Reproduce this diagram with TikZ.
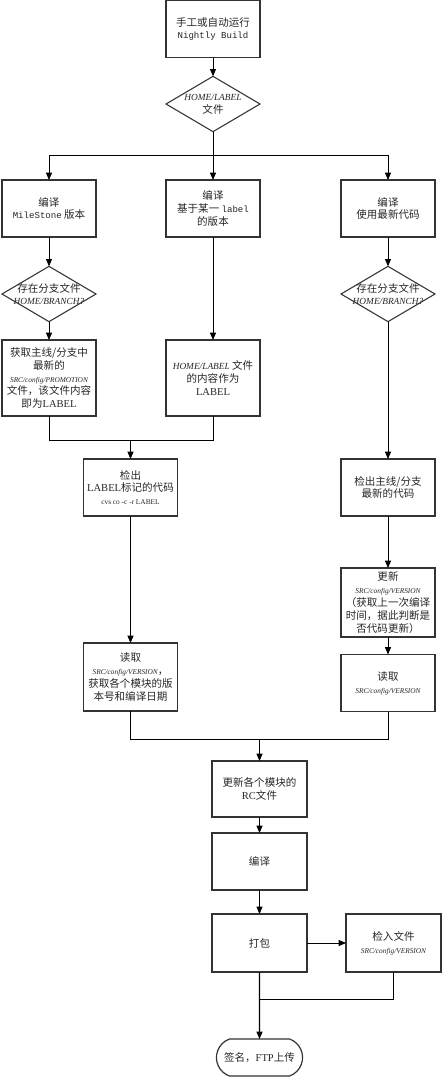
\documentclass[tikz,border=0pt]{standalone}
\usepackage{fontspec}
\setmainfont{Noto Sans CJK SC}
\newfontfamily\latf{Liberation Serif}
\newfontfamily\monof{Liberation Mono}
\newfontfamily\itf{Liberation Serif}[UprightFont=* Italic]
\usetikzlibrary{shapes.geometric,shapes.misc,arrows.meta}
\newcommand\ip[1]{{\itf\fontsize{7}{8}\selectfont #1}}
\newcommand\smp[1]{{\itf\fontsize{5.5}{7}\selectfont #1}}
\newcommand\mo[1]{{\monof\fontsize{6.8}{8}\selectfont #1}}
\newcommand\la[1]{{\latf #1}}
\begin{document}
\begin{tikzpicture}[x=0.75pt,y=-0.75pt,
  every node/.style={font=\fontsize{7.9}{9.6}\selectfont, text=black!85},
  box/.style={draw=black!80, line width=0.9pt, rectangle, minimum width=70.5pt, minimum height=42.75pt, align=center, inner sep=1pt, outer sep=0pt},
  dia/.style={draw=black!80, line width=0.8pt, diamond, minimum width=70.5pt, minimum height=41.5pt, inner sep=0pt, outer sep=0pt},
  term/.style={draw=black!80, line width=0.9pt, rounded rectangle, rounded rectangle arc length=140, minimum width=71.25pt, minimum height=27.75pt, align=center, outer sep=0pt},
  lin/.style={draw=black, line width=0.6pt},
  arr/.style={lin, -{Triangle[length=5.5pt,width=4.5pt]}}]
\useasboundingbox (0,0) rectangle (442,1078);
% nodes
\node[box] (top) at (213,29) {手工或自动运行\\\mo{Nightly Build}};
\node[dia] (d1) at (213,104) {};
\node[align=center] at (d1) {\ip{HOME/LABEL}\\文件};
\node[box] (L1) at (49,208.5) {编译\\\mo{MileStone} 版本};
\node[box] (M1) at (213,208.5) {编译\\基于某一 \mo{label}\\的版本};
\node[box] (R1) at (388,208.5) {编译\\使用最新代码};
\node[dia] (dL) at (49,294) {};
\node[align=center] at (dL) {存在分支文件\\\ip{HOME/BRANCH?}};
\node[dia] (dR) at (388,294) {};
\node[align=center] at (dR) {存在分支文件\\\ip{HOME/BRANCH?}};
\node[box, minimum height=57pt] (L2) at (49,378) {获取主线/分支中\\最新的\\\smp{SRC/config/PROMOTION}\\文件，该文件内容\\即为\la{LABEL}};
\node[box, minimum height=57pt] (M2) at (213,378) {\ip{HOME/LABEL} 文件\\的内容作为\\\la{LABEL}};
\node[box] (C1) at (130.5,487.5) {检出\\\la{LABEL}标记的代码\\{\latf\fontsize{5.5}{7}\selectfont cvs co -c -r LABEL}};
\node[box] (R2) at (388,487.5) {检出主线/分支\\最新的代码};
\node[box, minimum height=51.75pt] (R3) at (388,602.5) {更新\\\smp{SRC/config/VERSION}\\（获取上一次编译\\时间，据此判断是\\否代码更新）};
\node[box] (R4) at (388,683) {读取\\\smp{SRC/config/VERSION}};
\node[box, minimum height=51pt] (C2) at (130.5,677) {读取\\\smp{SRC/config/VERSION}，\\获取各个模块的版\\本号和编译日期};
\node[box, minimum width=71.25pt, minimum height=42pt] (B1) at (259.5,789) {更新各个模块的\\\la{RC}文件};
\node[box, minimum width=71.25pt] (B2) at (259.5,861.5) {编译};
\node[box, minimum width=71.25pt, minimum height=43.5pt] (B3) at (259.5,943) {打包};
\node[box, minimum width=71.25pt, minimum height=43.5pt] (B4) at (393.5,943) {检入文件\\\smp{SRC/config/VERSION}};
\node[term] (T) at (259.5,1057.5) {签名，\la{FTP}上传};
% junctions
\coordinate (j1) at (213,155);
\coordinate (j2) at (130.5,440);
\coordinate (j3) at (259.5,739);
\coordinate (j4) at (259.5,999);
% connectors
\draw[arr] (top) -- (d1);
\draw[lin] (d1.south) -- (j1);
\draw[arr] (j1) -| (L1.north);
\draw[arr] (j1) -| (R1.north);
\draw[arr] (j1) -- (M1.north);
\draw[arr] (L1) -- (dL);
\draw[arr] (dL) -- (L2);
\draw[arr] (M1) -- (M2);
\draw[arr] (R1) -- (dR);
\draw[arr] (dR) -- (R2);
\draw[lin] (L2.south) |- (j2);
\draw[lin] (M2.south) |- (j2);
\draw[arr] (j2) -- (C1.north);
\draw[arr] (C1) -- (C2);
\draw[arr] (R2) -- (R3);
\draw[arr] (R3) -- (R4);
\draw[lin] (C2.south) |- (j3);
\draw[lin] (R4.south) |- (j3);
\draw[arr] (j3) -- (B1.north);
\draw[arr] (B1) -- (B2);
\draw[arr] (B2) -- (B3);
\draw[arr] (B3) -- (B4);
\draw[lin] (B4.south) |- (j4);
\draw[arr, line width=0.9pt] (B3) -- (T);
\end{tikzpicture}
\end{document}
